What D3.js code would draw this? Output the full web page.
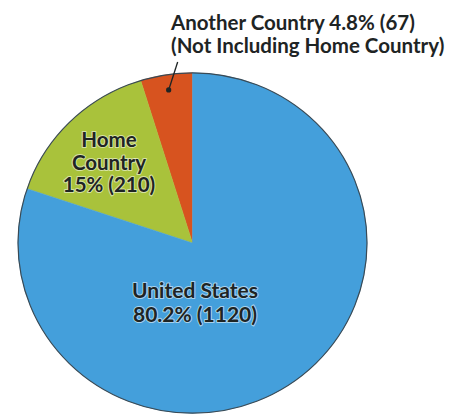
<!DOCTYPE html>
<html>
<head>
<meta charset="utf-8">
<script src="https://cdn.jsdelivr.net/npm/d3@7"></script>
<style>
  body { margin: 0; background: #fff; }
  svg { display: block; }
  .lbl { font-family: Lato, "Open Sans", sans-serif; font-weight: bold; fill: #1e2424; }
  .inner { stroke: rgba(255,255,255,0.55); stroke-width: 2px; paint-order: stroke; stroke-linejoin: round; }
</style>
</head>
<body>
<svg width="459" height="416"></svg>
<script>
// данные
var categories = ["Another Country", "Home Country", "United States"];
var counts = [67, 210, 1120];
var pctLabels = ["4.8%", "15%", "80.2%"];
var colors = ["#d7531f", "#a9c23b", "#449fdb"];

var width = 459, height = 416;
var cx = 192.5, cy = 243,
    radius = 174.5,
    squash = 0.975; // скан немного сплющен по вертикали

var svg = d3.select("svg");

var pie = d3.pie()
    .sort(null)
    .startAngle(0)
    .endAngle(-2 * Math.PI) // против часовой стрелки от 12 часов
    .value(function(d) { return d; });

var arc = d3.arc().innerRadius(0).outerRadius(radius);

var arcs = pie(counts);

var g = svg.append("g")
    .attr("transform", "translate(" + cx + "," + cy + ") scale(1," + squash + ")");

g.selectAll("path.slice")
    .data(arcs)
    .enter().append("path")
    .attr("class", "slice")
    .attr("d", arc)
    .attr("fill", function(d, i) { return colors[i]; })
    .attr("stroke", function(d, i) { return colors[i]; })
    .attr("stroke-width", 0.5);

// тонкий тёмный контур
g.append("circle")
    .attr("r", radius)
    .attr("fill", "none")
    .attr("stroke", "#3a4a55")
    .attr("stroke-width", 1.2);

// выноска для маленького сектора
var a0 = arcs[0];
var mid = (a0.startAngle + a0.endAngle) / 2;
var dotR = radius * 0.91;
var dot = [cx + Math.sin(mid) * dotR, cy - Math.cos(mid) * dotR * squash];

svg.append("line")
    .attr("x1", dot[0]).attr("y1", dot[1])
    .attr("x2", dot[0] + 9).attr("y2", 62)
    .attr("stroke", "#1e2424")
    .attr("stroke-width", 1.3);
svg.append("circle")
    .attr("cx", dot[0]).attr("cy", dot[1])
    .attr("r", 2.6)
    .attr("fill", "#1e2424");

var topLabel = svg.append("text")
    .attr("class", "lbl")
    .attr("font-size", 20.5)
    .attr("x", 171).attr("y", 30);
topLabel.append("tspan").attr("x", 171)
    .text(categories[0] + " " + pctLabels[0] + " (" + counts[0] + ")");
topLabel.append("tspan").attr("x", 171).attr("dy", 23)
    .text("(Not Including Home Country)");

var home = svg.append("text")
    .attr("class", "lbl inner")
    .attr("font-size", 20.5)
    .attr("text-anchor", "middle");
["Home", "Country", pctLabels[1] + " (" + counts[1] + ")"].forEach(function(t, i) {
    home.append("tspan").attr("x", 109).attr("y", 147 + i * 22.5).text(t);
});

var us = svg.append("text")
    .attr("class", "lbl inner")
    .attr("font-size", 21)
    .attr("text-anchor", "middle");
[categories[2], pctLabels[2] + " (" + counts[2] + ")"].forEach(function(t, i) {
    us.append("tspan").attr("x", 195).attr("y", 298 + i * 24).text(t);
});
</script>
</body>
</html>
